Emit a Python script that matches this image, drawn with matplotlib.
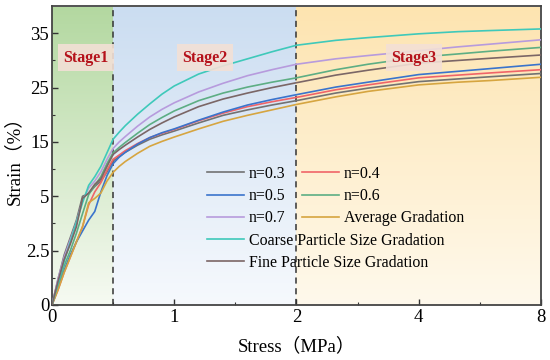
import numpy as np
import matplotlib
matplotlib.use('Agg')
import matplotlib.pyplot as plt
from matplotlib.ticker import FixedLocator
from matplotlib.colors import to_rgb

plt.rcParams['font.family'] = ['Liberation Serif', 'Noto Sans CJK SC']

# data
stress = [0, 0.05, 0.1, 0.15, 0.2, 0.25, 0.3, 0.35, 0.4, 0.45, 0.5, 0.55, 0.6,
          0.7, 0.8, 0.9, 1, 1.2, 1.4, 1.6, 1.8, 2, 2.5, 3, 4, 5, 6, 8]
n03 = [0, 1.2, 2.3, 3.1, 3.9, 5.0, 5.5, 6.8, 7.8, 9.5, 11.5, 12.3, 13.1,
       14.4, 15.5, 16.3, 17.0, 18.5, 19.9, 20.9, 21.8, 22.6, 24.0, 24.9, 26.1, 26.6, 27.0, 27.6]
n04 = [0, 0.7, 1.5, 2.2, 2.9, 3.6, 4.6, 5.8, 7.5, 9.8, 11.8, 12.6, 13.4,
       14.7, 15.8, 16.6, 17.3, 18.9, 20.3, 21.5, 22.4, 23.2, 24.6, 25.5, 26.8, 27.3, 27.7, 28.3]
n05 = [0, 0.8, 1.6, 2.3, 2.9, 3.4, 3.9, 4.3, 5.8, 8.8, 11.0, 12.2, 13.1,
       14.6, 15.8, 16.7, 17.4, 19.0, 20.5, 21.8, 22.8, 23.7, 25.1, 26.0, 27.4, 28.0, 28.5, 29.3]
n06 = [0, 0.9, 1.8, 2.5, 3.3, 4.2, 5.3, 7.0, 8.6, 11.0, 13.0, 14.0, 14.9,
       16.6, 18.2, 19.5, 20.7, 22.6, 24.0, 25.1, 26.0, 26.8, 28.3, 29.3, 30.6, 31.2, 31.7, 32.4]
n07 = [0, 1.2, 2.2, 3.0, 3.8, 4.8, 6.5, 7.8, 9.5, 11.8, 13.8, 15.0, 16.0,
       17.9, 19.6, 21.0, 22.2, 24.2, 25.8, 27.2, 28.3, 29.3, 30.3, 30.9, 31.8, 32.5, 33.0, 33.8]
avg = [0, 0.7, 1.5, 2.2, 2.9, 3.6, 4.7, 4.9, 5.6, 7.8, 9.4, 10.5, 11.4,
       12.9, 14.2, 15.1, 15.9, 17.4, 18.8, 19.9, 20.9, 21.9, 23.3, 24.3, 25.5, 26.0, 26.3, 26.9]
coarse = [0, 1.0, 2.0, 2.9, 3.8, 4.7, 7.0, 8.6, 10.5, 13.0, 15.5, 16.8, 18.0,
          20.1, 22.0, 23.8, 25.3, 27.5, 29.0, 30.3, 31.6, 32.8, 33.7, 34.2, 34.9, 35.3, 35.5, 35.8]
fine = [0, 1.1, 2.1, 2.8, 3.6, 4.9, 5.6, 7.2, 8.2, 10.5, 12.7, 13.6, 14.4,
        15.9, 17.3, 18.5, 19.6, 21.5, 22.9, 24.0, 25.0, 25.9, 27.3, 28.2, 29.5, 30.0, 30.4, 31.0]

xticks = [0, 1, 2, 4, 8]
yticks = [0, 2.5, 5, 15, 25, 35]
stage_edges = [0, 0.5, 2, 8]
stage_names = ['Stage1', 'Stage2', 'Stage3']


def fwd_x(x):
    x = np.asarray(x, float)
    return np.where(x <= 2, x, 2 + np.log2(np.maximum(x, 2) / 2))


def inv_x(u):
    u = np.asarray(u, float)
    return np.where(u <= 2, u, 2 * 2 ** (np.maximum(u, 2) - 2))


def fwd_y(y):
    y = np.asarray(y, float)
    return np.where(y <= 5, y / 2.5, 2 + (y - 5) / 10)


def inv_y(u):
    u = np.asarray(u, float)
    return np.where(u <= 2, u * 2.5, 5 + (u - 2) * 10)


fig = plt.figure(figsize=(5.5, 3.6), dpi=100)
ax = fig.add_axes([0.0945, 0.153, 0.889, 0.830])
ax.set_xscale('function', functions=(fwd_x, inv_x))
ax.set_yscale('function', functions=(fwd_y, inv_y))

# gradient backgrounds
tops = ['#B3D8A0', '#CBDDF1', '#FDE4B0']
bottoms = ['#F6FAF2', '#F6F9FD', '#FFF9EC']
for i in range(3):
    c0 = np.array(to_rgb(tops[i]))
    c1 = np.array(to_rgb(bottoms[i]))
    t = np.linspace(0, 1, 256)[:, None, None]
    img = c0 * (1 - t) + c1 * t
    ax.imshow(img, extent=(stage_edges[i], stage_edges[i + 1], 0, 1),
              transform=ax.get_xaxis_transform(), aspect='auto',
              origin='upper', zorder=0)

for xv in [0.5, 2]:
    ax.axvline(xv, color='#333333', ls=(0, (4, 3)), lw=1.1, zorder=1)

series = [
    ('n=0.3', n03, '#727272'),
    ('n=0.4', n04, '#F06468'),
    ('n=0.5', n05, '#3A74CC'),
    ('n=0.6', n06, '#5DAE84'),
    ('n=0.7', n07, '#B79BDD'),
    ('Average Gradation', avg, '#D6A540'),
    ('Coarse Particle Size Gradation', coarse, '#3FC9BA'),
    ('Fine Particle Size Gradation', fine, '#7B6666'),
]
lines = {}
for name, vals, col in series:
    ln, = ax.plot(stress, vals, color=col, lw=1.2, label=name, zorder=3)
    lines[name] = ln

ax.set_xlim(0, 8)
ax.set_ylim(0, 40)
ax.xaxis.set_major_locator(FixedLocator(xticks))
ax.yaxis.set_major_locator(FixedLocator(yticks))
ax.set_xticklabels([str(v) for v in xticks])
ax.set_yticklabels(['0', '2.5', '5', '15', '25', '35'])
ax.xaxis.set_minor_locator(FixedLocator(inv_x([0.5, 1.5, 2.5, 3.5])))
ax.yaxis.set_minor_locator(FixedLocator(inv_y([0.5, 1.5, 2.5, 3.5, 4.5])))
ax.tick_params(which='both', direction='in', labelsize=13.5, color='#333333')
ax.tick_params(which='major', length=4, width=1)
ax.tick_params(which='minor', length=2.5, width=0.8)
ax.tick_params(axis='y', pad=2)
ax.tick_params(axis='x', pad=3)
for s in ax.spines.values():
    s.set_color('#444444')
    s.set_linewidth(1.3)

ax.set_xlabel('Stress（MPa）', fontsize=13.5, labelpad=8)
ax.set_ylabel('Strain（%）', fontsize=13.5, labelpad=2)

# stage labels
label_x = [0.28, 1.25, 3.9]
for name, xv in zip(stage_names, label_x):
    ax.text(xv, 30.5, name, color='#B5121B', fontsize=11.5, fontweight='bold',
            ha='center', va='center', zorder=4,
            bbox=dict(boxstyle='square,pad=0.35', fc='#F3E0D6', ec='none', alpha=0.9))

# legend in two independent columns
left_names = ['n=0.3', 'n=0.5', 'n=0.7', 'Coarse Particle Size Gradation',
              'Fine Particle Size Gradation']
right_names = ['n=0.4', 'n=0.6', 'Average Gradation']
kw = dict(frameon=False, fontsize=11.4, handlelength=2.35, handletextpad=0.3,
          labelspacing=0.39, borderpad=0, borderaxespad=0)
leg1 = ax.legend([lines[n] for n in left_names], left_names,
                 loc='upper left', bbox_to_anchor=(0.317, 0.465), **kw)
ax.add_artist(leg1)
ax.legend([lines[n] for n in right_names], right_names,
          loc='upper left', bbox_to_anchor=(0.511, 0.465), **kw)

fig.savefig('out.png', dpi=100)
